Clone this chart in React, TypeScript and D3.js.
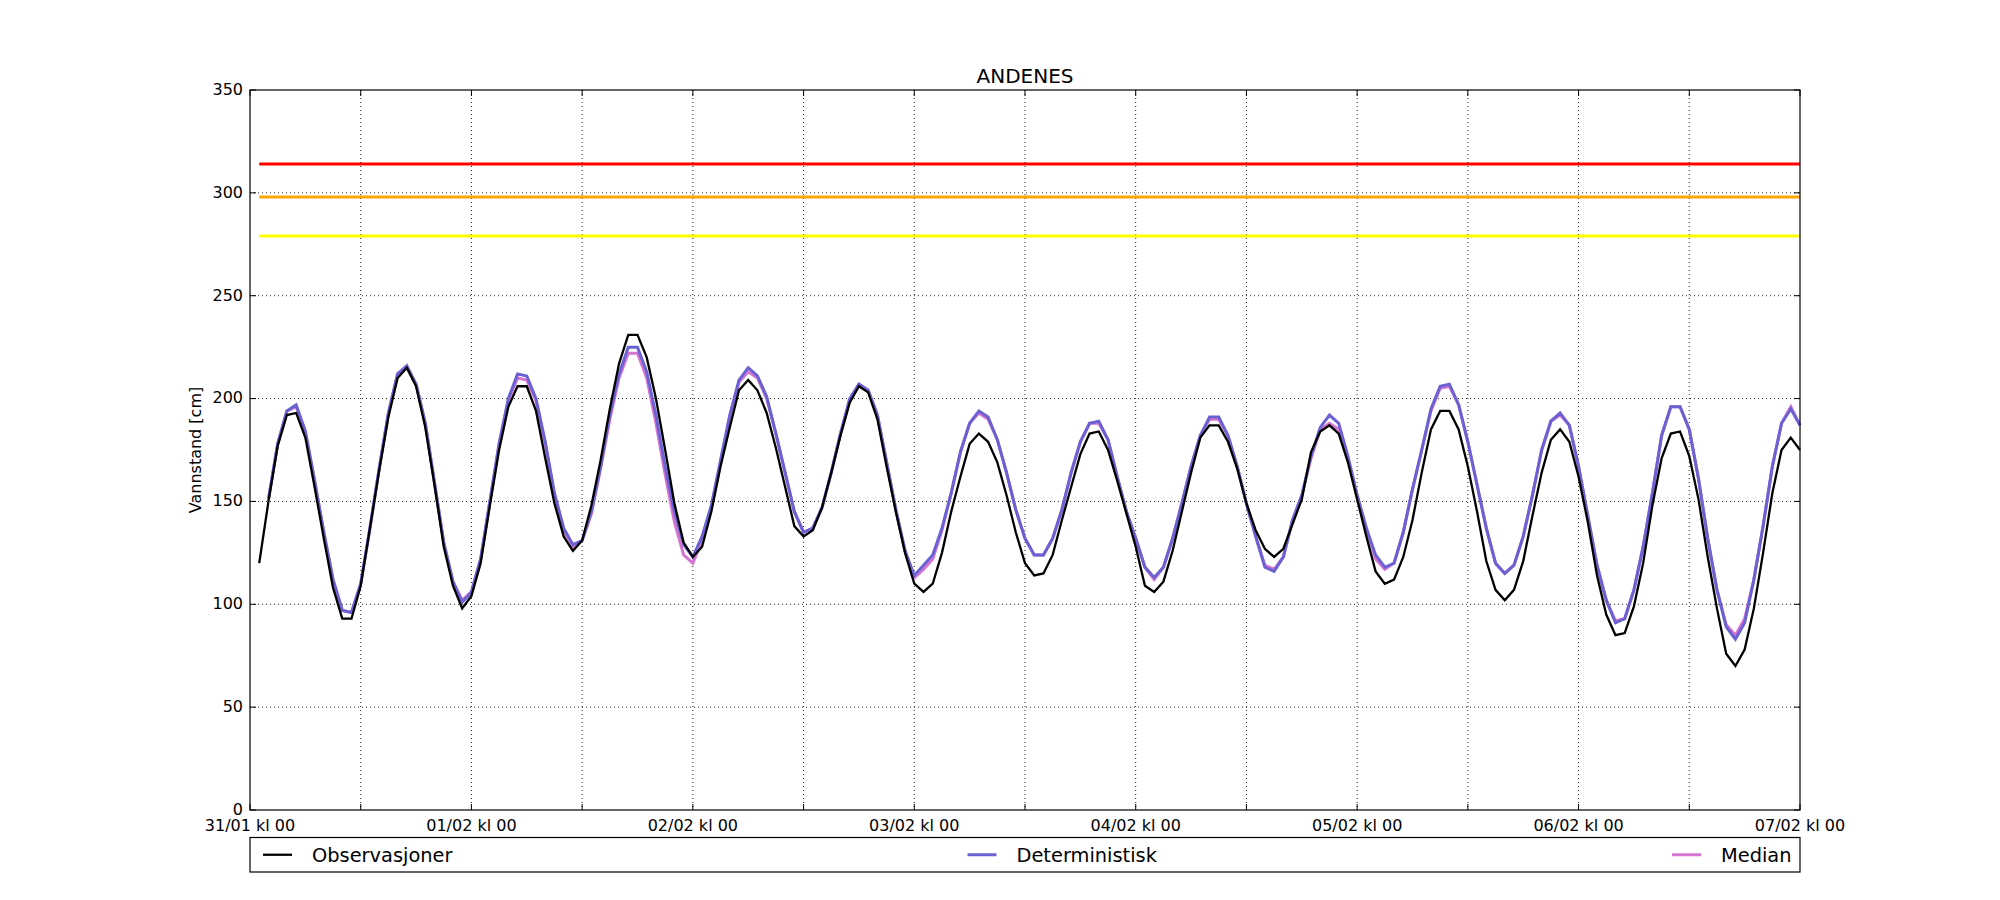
import * as d3 from "d3";

const title = "ANDENES";
const yLabel = "Vannstand [cm]";
const dayLabels = [
  "31/01 kl 00",
  "01/02 kl 00",
  "02/02 kl 00",
  "03/02 kl 00",
  "04/02 kl 00",
  "05/02 kl 00",
  "06/02 kl 00",
  "07/02 kl 00",
];
const seriesNames = ["Observasjoner", "Deterministisk", "Median"];

// varsel-nivåer (cm)
const thresholds = [314, 298, 279];

// timesverdier, første verdi kl 01 den 31/01
const observasjoner = [
  120, 150, 177, 192, 193, 181, 157, 132, 108, 93, 93, 109,
  137, 165, 191, 210, 215, 206, 186, 158, 128, 109, 98, 104,
  120, 148, 175, 196, 206, 206, 194, 171, 149, 133, 126, 131,
  148, 170, 195, 217, 231, 231, 220, 200, 175, 149, 130, 123,
  128, 145, 167, 186, 204, 209, 204, 193, 176, 157, 138, 133,
  136, 147, 164, 182, 198, 206, 203, 190, 167, 145, 125, 110,
  106, 110, 125, 145, 162, 178, 183, 179, 169, 153, 135, 120,
  114, 115, 124, 141, 157, 173, 183, 184, 175, 160, 144, 128,
  109, 106, 111, 126, 145, 164, 181, 187, 187, 179, 166, 149,
  136, 127, 123, 127, 139, 151, 174, 184, 187, 183, 169, 151,
  133, 116, 110, 112, 123, 141, 164, 185, 194, 194, 185, 167,
  145, 121, 107, 102, 107, 121, 143, 164, 180, 185, 179, 162,
  140, 114, 95, 85, 86, 99, 120, 148, 171, 183, 184, 172,
  151, 123, 98, 76, 70, 78, 98, 125, 154, 175, 181, 175,
];

// prognoser, første verdi kl 02 den 31/01
const deterministisk = [
  151, 178, 194, 197, 184, 160, 135, 112, 97, 96, 110,
  137, 166, 193, 212, 216, 207, 188, 159, 130, 111, 101, 106,
  122, 150, 178, 200, 212, 211, 200, 179, 154, 137, 129, 131,
  145, 167, 192, 212, 225, 225, 213, 192, 167, 145, 129, 123,
  133, 148, 170, 192, 209, 215, 211, 201, 183, 164, 145, 135,
  137, 147, 164, 183, 200, 207, 204, 192, 169, 146, 126, 114,
  119, 124, 137, 154, 174, 188, 194, 191, 180, 164, 146, 132,
  124, 124, 132, 146, 164, 179, 188, 189, 180, 162, 145, 132,
  118, 113, 118, 132, 149, 167, 182, 191, 191, 182, 167, 149,
  133, 118, 116, 123, 141, 153, 172, 186, 192, 188, 172, 153,
  137, 124, 118, 120, 135, 156, 175, 195, 206, 207, 197, 179,
  158, 137, 120, 115, 119, 133, 153, 175, 189, 193, 187, 167,
  143, 119, 102, 91, 93, 107, 128, 154, 182, 196, 196, 185,
  161, 132, 107, 89, 83, 91, 112, 138, 167, 188, 195, 187,
];

const median = [
  151, 178, 194, 196, 184, 160, 135, 112, 97, 96, 110,
  137, 166, 193, 212, 215, 207, 188, 159, 130, 111, 102, 106,
  122, 150, 178, 199, 210, 209, 199, 178, 153, 136, 128, 131,
  144, 166, 190, 210, 222, 222, 210, 188, 163, 140, 124, 120,
  131, 147, 169, 191, 208, 213, 210, 200, 183, 164, 145, 135,
  137, 147, 164, 183, 199, 207, 204, 192, 169, 146, 126, 113,
  117, 122, 136, 154, 174, 188, 193, 190, 180, 164, 146, 132,
  124, 124, 132, 146, 164, 179, 188, 188, 180, 162, 145, 132,
  118, 112, 118, 132, 149, 167, 182, 190, 190, 182, 167, 149,
  133, 119, 117, 123, 141, 153, 171, 185, 188, 185, 171, 153,
  137, 122, 117, 120, 135, 156, 175, 194, 205, 206, 197, 179,
  158, 137, 120, 115, 119, 133, 153, 175, 189, 192, 187, 167,
  143, 119, 102, 92, 93, 107, 128, 154, 182, 196, 196, 185,
  161, 132, 107, 90, 85, 93, 112, 138, 167, 188, 196, 187,
];

const obsStart = 1;
const fcStart = 2;

const W = 2000;
const H = 900;
const left = 250;
const right = 1800;
const top = 90;
const bottom = 810;
const font = "'DejaVu Sans', sans-serif";

const thresholdColors = ["#ff0000", "#ffa500", "#ffff00"];
const seriesColors = ["#000000", "#6a62d2", "#d674d2"];
const seriesWidths = [2.3, 3, 3];

const App = () => {
  const lastHour = (dayLabels.length - 1) * 24;
  const x = d3.scaleLinear().domain([0, lastHour]).range([left, right]);
  const y = d3.scaleLinear().domain([0, 350]).range([bottom, top]);

  const pathFor = (vals: number[], start: number) =>
    d3
      .line<number>()
      .x((_, i) => x(start + i))
      .y((d) => y(d))(vals) as string;

  const xTicks = d3.range(0, lastHour + 1, 12);
  const yTicks = y.ticks(7);

  const series = [
    { vals: observasjoner, start: obsStart },
    { vals: deterministisk, start: fcStart },
    { vals: median, start: fcStart },
  ];
  // median under, observasjoner øverst
  const drawOrder = [2, 1, 0];

  const legendX = d3.scalePoint<string>().domain(seriesNames).range([263, 1672]);
  const legendTop = 837.5;
  const legendBottom = 872;
  const legendMid = (legendTop + legendBottom) / 2;

  return (
    <div style={{ position: "absolute", left: 0, top: 0 }}>
      <svg width={W} height={H} style={{ display: "block", background: "#fff" }}>
        <rect width={W} height={H} fill="#fff" />

        {/* grid */}
        <g stroke="#222" strokeWidth={1} strokeDasharray="1,3">
          {xTicks.slice(1, -1).map((t) => (
            <line key={"gx" + t} x1={x(t)} x2={x(t)} y1={top} y2={bottom} />
          ))}
          {yTicks.slice(1, -1).map((t) => (
            <line key={"gy" + t} x1={left} x2={right} y1={y(t)} y2={y(t)} />
          ))}
        </g>

        {/* varselnivåer */}
        {thresholds.map((v, i) => (
          <line
            key={"th" + i}
            x1={x(obsStart)}
            x2={x(lastHour)}
            y1={y(v)}
            y2={y(v)}
            stroke={thresholdColors[i]}
            strokeWidth={3}
          />
        ))}

        {/* serier */}
        {drawOrder.map((k) => (
          <path
            key={"s" + k}
            d={pathFor(series[k].vals, series[k].start)}
            fill="none"
            stroke={seriesColors[k]}
            strokeWidth={seriesWidths[k]}
            strokeLinejoin="miter"
          />
        ))}

        {/* akse-ramme */}
        <rect
          x={left}
          y={top}
          width={right - left}
          height={bottom - top}
          fill="none"
          stroke="#000"
          strokeWidth={1.2}
        />

        {/* tick marks, innover */}
        <g stroke="#000" strokeWidth={1}>
          {xTicks.map((t) => (
            <g key={"xt" + t}>
              <line x1={x(t)} x2={x(t)} y1={bottom} y2={bottom - 6} />
              <line x1={x(t)} x2={x(t)} y1={top} y2={top + 6} />
            </g>
          ))}
          {yTicks.map((t) => (
            <g key={"yt" + t}>
              <line x1={left} x2={left + 6} y1={y(t)} y2={y(t)} />
              <line x1={right} x2={right - 6} y1={y(t)} y2={y(t)} />
            </g>
          ))}
        </g>

        {/* tick labels */}
        <g fontFamily={font} fontSize={16} fill="#000">
          {dayLabels.map((lab, i) => (
            <text key={lab} x={x(i * 24)} y={831} textAnchor="middle">
              {lab}
            </text>
          ))}
          {yTicks.map((t) => (
            <text key={"yl" + t} x={243} y={y(t)} dy="0.3em" textAnchor="end">
              {t}
            </text>
          ))}
        </g>

        <text
          transform={`translate(201,${(top + bottom) / 2}) rotate(-90)`}
          textAnchor="middle"
          fontFamily={font}
          fontSize={16}
        >
          {yLabel}
        </text>

        <text
          x={(left + right) / 2}
          y={83}
          textAnchor="middle"
          fontFamily={font}
          fontSize={20}
        >
          {title}
        </text>

        {/* legend */}
        <rect
          x={left}
          y={legendTop}
          width={right - left}
          height={legendBottom - legendTop}
          fill="#fff"
          stroke="#000"
          strokeWidth={1.2}
        />
        {seriesNames.map((name, i) => (
          <g key={name}>
            <line
              x1={legendX(name)}
              x2={(legendX(name) as number) + 29}
              y1={legendMid}
              y2={legendMid}
              stroke={seriesColors[i]}
              strokeWidth={seriesWidths[i]}
            />
            <text
              x={(legendX(name) as number) + 49}
              y={legendMid}
              dy="0.36em"
              fontFamily={font}
              fontSize={19.4}
            >
              {name}
            </text>
          </g>
        ))}
      </svg>
    </div>
  );
};

export default App;
